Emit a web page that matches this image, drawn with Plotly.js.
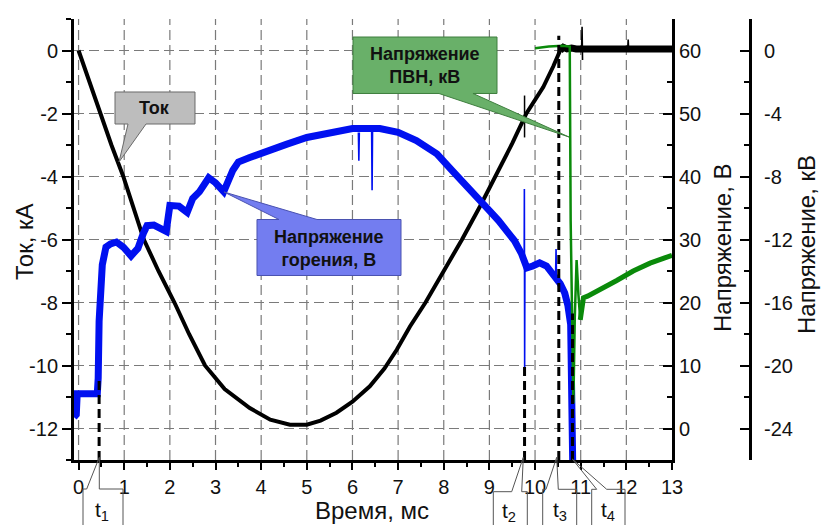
<!DOCTYPE html>
<html><head><meta charset="utf-8">
<script src="https://cdn.plot.ly/plotly-3.0.1.min.js"></script>
<style>html,body{margin:0;padding:0;background:#fff}</style>
</head><body>
<div id="chart" style="width:822px;height:525px"></div>
<script>
// ---- data ----
// Current, kA (left axis)
const currentT = [0, 0.24, 0.47, 0.72, 0.98, 1.2, 1.43, 1.75, 2.1, 2.42, 2.77, 3.2, 3.75, 4.2, 4.63, 5.0, 5.3, 5.65, 6.0, 6.38, 6.7, 6.97, 7.26, 7.6, 8.0, 8.4, 8.79, 9.13, 9.5, 9.81, 10.18, 10.4, 10.55];
const currentI = [0, -1, -2, -3, -4, -5, -6, -7, -8, -9, -10, -10.75, -11.35, -11.72, -11.88, -11.88, -11.75, -11.5, -11.15, -10.66, -10.1, -9.5, -8.76, -8.0, -7.0, -6.0, -4.96, -4.0, -2.95, -2.0, -1.16, -0.5, 0];
const currentTailT = [10.55, 10.62, 10.7, 10.8, 10.9, 11.0, 11.5, 12.0, 12.5, 13.0];
const currentTailI = [0.0, 0.1, 0.05, 0.08, 0.05, 0.05, 0.05, 0.05, 0.03, 0.05];
const currentSpikeT = [11.02, 11.03, 11.04, null, 12.03, 12.04, 12.05];
const currentSpikeI = [0.05, 0.75, -0.3, null, 0.05, 0.35, 0.05];

// Arc (burning) voltage, V (first right axis)
const arcT = [-0.1, -0.05, -0.03, 0.1, 0.25, 0.41, 0.43, 0.45, 0.47, 0.52, 0.6, 0.7, 0.83, 0.98, 1.15, 1.3, 1.42, 1.5, 1.65, 1.8, 1.92, 2.0, 2.2, 2.38, 2.5, 2.65, 2.85, 3.0, 3.18, 3.38, 3.5, 3.75, 4.1, 4.55, 5.0, 5.6, 6.0, 6.6, 7.0, 7.4, 7.85, 8.2, 8.5, 8.75, 9.0, 9.2, 9.38, 9.55, 9.7, 9.76, 9.82, 9.95, 10.1, 10.25, 10.4, 10.55, 10.65, 10.72, 10.78, 10.81, 10.83];
const arcV = [1.8, 2.2, 5.5, 5.4, 5.5, 5.5, 8, 17, 21.5, 26, 28.8, 29.3, 29.6, 28.8, 27.4, 28.6, 31, 32.2, 32.3, 31.8, 31.3, 35.4, 35.3, 34.3, 36.5, 37.6, 39.8, 39, 37.6, 41, 42.3, 43, 43.8, 45.1, 46.2, 47.2, 47.6, 47.6, 47, 45.7, 43.6, 40.8, 38.6, 36.6, 34.6, 33, 31.4, 29.8, 27.8, 26.5, 25.5, 25.8, 26.3, 25.8, 24.6, 23, 21.5, 19.5, 16.5, 8, -8];
const arcSpikeT = [6.13, 6.14, 6.15, null, 6.42, 6.43, 6.44, null, 9.762, 9.766, 9.772, 9.778, null, 10.45, 10.46, 10.47];
const arcSpikeV = [47, 42.5, 47, null, 47.3, 37.8, 47.3, null, 27.5, 38, 9.7, 26, null, 24.5, 28.5, 24];

// High-voltage pulse generator voltage, kV (second right axis)
const hvT = [10.0, 10.3, 10.6, 10.76, 10.78, 10.81, 10.84, 10.87, 10.91, 10.95, 10.99];
const hvKV = [0.15, 0.25, 0.3, 0.25, -10.8, -17.1, -22.4, -17, -13.3, -15.5, -17.1];
const hvTailT = [10.99, 11.06, 11.15, 11.42, 11.79, 12.15, 12.52, 13.0];
const hvTailKV = [-17.1, -15.7, -15.6, -15.2, -14.6, -14.0, -13.5, -13.0];

// event markers t1..t4 (ms) and the current-axis level where each dashed line ends
const markerT = [0.45, 9.77, 10.52, 10.82];
const markerTop = [-10.35, -10.05, 0.47, -8.35];
const markerNames = ['1', '2', '3', '4'];

const xTicks = [0,1,2,3,4,5,6,7,8,9,10,11,12,13];
const currentTicks = [0,-2,-4,-6,-8,-10,-12];
const voltTicks = [0,10,20,30,40,50,60];
const kvTicks = [0,-4,-8,-12,-16,-20,-24];
const label = v => String(v).replace('\u2212', '-');

const X_RANGE = [-0.1, 13];
const I_RANGE = [-13, 1];

// ---- layout helpers (pixel -> paper) ----
const L = 74, T = 19, PW = 686, PH = 441;
const XDOM = 598 / PW;
const X = px => (px - L) / PW;
const Y = py => (T + PH - py) / PH;
const path = pts => 'M' + pts.map(p => X(p[0]).toFixed(5) + ',' + Y(p[1]).toFixed(5)).join('L') + 'Z';

const FONT = 'Liberation Sans, Arial, sans-serif';
const tickFont = {family: FONT, size: 20, color: '#111'};

const traces = [
  {x: arcT, y: arcV, yaxis: 'y2', type: 'scatter', mode: 'lines', name: 'Напряжение горения, В',
   line: {color: '#0010f0', width: 7}},
  {x: arcSpikeT, y: arcSpikeV, yaxis: 'y2', type: 'scatter', mode: 'lines', name: 'Напряжение горения (выбросы)',
   line: {color: '#0010f0', width: 1.6}, connectgaps: false},
  {x: hvT, y: hvKV, yaxis: 'y3', type: 'scatter', mode: 'lines', name: 'Напряжение ПВН, кВ',
   line: {color: '#0a8a0a', width: 2.5}},
  {x: hvTailT, y: hvTailKV, yaxis: 'y3', type: 'scatter', mode: 'lines', name: 'Напряжение ПВН (хвост)',
   line: {color: '#0a8a0a', width: 5}},
  {x: currentT, y: currentI, yaxis: 'y', type: 'scatter', mode: 'lines', name: 'Ток',
   line: {color: '#000', width: 4}},
  {x: currentTailT, y: currentTailI, yaxis: 'y', type: 'scatter', mode: 'lines', name: 'Ток (после t3)',
   line: {color: '#000', width: 7}},
  {x: currentSpikeT, y: currentSpikeI, yaxis: 'y', type: 'scatter', mode: 'lines', name: 'Ток (выбросы)',
   line: {color: '#000', width: 1.6}, connectgaps: false}
];

const shapes = [];
const annotations = [];

// dashed grid (vertical at each ms, horizontal at each current tick), under the traces
const gridLine = {color: '#7a7a7a', width: 1.2, dash: '10px,5px'};
xTicks.filter(v => v < 13).forEach(v => shapes.push({type: 'line', layer: 'below', xref: 'x', yref: 'y',
  x0: v, x1: v, y0: I_RANGE[0], y1: I_RANGE[1], line: gridLine}));
currentTicks.forEach(v => shapes.push({type: 'line', layer: 'below', xref: 'x', yref: 'y',
  x0: X_RANGE[0], x1: X_RANGE[1], y0: v, y1: v, line: gridLine}));

// dashed event lines
markerT.forEach((t, i) => {
  shapes.push({type: 'line', xref: 'x', yref: 'y', x0: t, x1: t, y0: -13, y1: markerTop[i],
    line: {color: '#000', width: 3, dash: '9px,5px'}});
});
// short mark on the current curve at t2
shapes.push({type: 'line', xref: 'x', yref: 'y', x0: markerT[1], x1: markerT[1], y0: -1.43, y1: -2.76,
  line: {color: '#000', width: 1.5}});

// callouts
const callouts = [
  {pts: [[115,92],[195,92],[195,124],[146,124],[119,162],[128,124],[115,124]], fill: '#bdbdbd', border: '#6a6a6a',
   text: 'Ток', cx: 154, cy: 108},
  {pts: [[257,219.5],[279,219.5],[224,192],[317,219.5],[401,219.5],[401,275.5],[257,275.5]], fill: '#737df0', border: '#4a52b0',
   text: 'Напряжение<br>горения, В', cx: 329, cy: 248},
  {pts: [[353,37],[497,37],[497,93.5],[473,93.5],[569,137],[439,93.5],[353,93.5]], fill: '#69b069', border: '#3f7f3f',
   text: 'Напряжение<br>ПВН, кВ', cx: 425, cy: 66}
];
callouts.forEach(c => {
  shapes.push({type: 'path', xref: 'paper', yref: 'paper', path: path(c.pts),
    fillcolor: c.fill, line: {color: c.border, width: 1}, layer: 'above'});
  annotations.push({xref: 'paper', yref: 'paper', x: X(c.cx), y: Y(c.cy), text: c.text, showarrow: false,
    xanchor: 'center', yanchor: 'middle', align: 'center',
    font: {family: FONT, size: 18, color: '#111', weight: 'bold'}});
});

// t-label callouts under the time axis
const tBoxes = [
  {pts: [[83,489],[86.7,489],[99.3,457.3],[99.3,489],[123,489],[123,535],[83,535]], cx: 102, cy: 511},
  {pts: [[493.3,491.7],[511.7,491.7],[523.3,457.3],[521.7,491.7],[527.3,491.7],[527.3,535],[493.3,535]], cx: 509, cy: 512},
  {pts: [[542.7,489.3],[546,489.3],[556.7,457.3],[558.3,489.3],[576.7,489.3],[576.7,535],[542.7,535]], cx: 560, cy: 511},
  {pts: [[591.7,489.3],[596.7,489.3],[572.3,459],[606.7,489.3],[625,489.3],[625,535],[591.7,535]], cx: 608, cy: 511}
];
tBoxes.forEach((b, i) => {
  shapes.push({type: 'path', xref: 'paper', yref: 'paper', path: path(b.pts),
    line: {color: '#555', width: 1}, layer: 'above'});
  annotations.push({xref: 'paper', yref: 'paper', x: X(b.cx), y: Y(b.cy), text: 't<sub>' + markerNames[i] + '</sub>',
    showarrow: false, xanchor: 'center', yanchor: 'middle', font: {family: FONT, size: 21, color: '#111'}});
});

// axis titles
const titleFont = {family: FONT, size: 24, color: '#111'};
annotations.push({xref: 'paper', yref: 'paper', x: X(372), y: Y(510), text: 'Время, мс', showarrow: false,
  xanchor: 'center', yanchor: 'middle', font: titleFont});
annotations.push({xref: 'paper', yref: 'paper', x: X(24), y: Y(242), text: 'Ток, кА', showarrow: false, textangle: -90,
  xanchor: 'center', yanchor: 'middle', font: titleFont});
annotations.push({xref: 'paper', yref: 'paper', x: X(722), y: Y(248), text: 'Напряжение, В', showarrow: false, textangle: -90,
  xanchor: 'center', yanchor: 'middle', font: titleFont});
annotations.push({xref: 'paper', yref: 'paper', x: X(806), y: Y(245), text: 'Напряжение, кВ', showarrow: false, textangle: -90,
  xanchor: 'center', yanchor: 'middle', font: titleFont});

const layout = {
  width: 822, height: 525,
  margin: {l: L, r: 822 - L - PW, t: T, b: 525 - T - PH, pad: 0},
  paper_bgcolor: '#fff', plot_bgcolor: '#fff',
  showlegend: false, hovermode: false,
  font: {family: FONT},
  xaxis: {
    domain: [0, XDOM], range: X_RANGE, tickmode: 'array', tickvals: xTicks, ticktext: xTicks.map(label),
    ticks: 'outside', ticklen: 7, tickwidth: 2, tickcolor: '#000', showgrid: false,
    showline: true, linewidth: 3, linecolor: '#000', zeroline: false, tickfont: tickFont,
    ticklabelstandoff: 0,
    minor: {tickmode: 'linear', tick0: 0.5, dtick: 1, ticks: 'outside', ticklen: 4, tickwidth: 2, tickcolor: '#000', showgrid: false}
  },
  yaxis: {
    range: I_RANGE, tickmode: 'array', tickvals: currentTicks, ticktext: currentTicks.map(label),
    ticks: 'outside', ticklen: 9, tickwidth: 2, tickcolor: '#000', showgrid: false,
    showline: true, linewidth: 3, linecolor: '#000', zeroline: false, tickfont: tickFont,
    minor: {tickmode: 'linear', tick0: 1, dtick: 2, ticks: 'outside', ticklen: 5, tickwidth: 2, tickcolor: '#000', showgrid: false}
  },
  yaxis2: {
    overlaying: 'y', side: 'right', anchor: 'x', range: [-5, 65], tickmode: 'array', tickvals: voltTicks, ticktext: voltTicks.map(label),
    ticks: 'inside', ticklen: 9, tickwidth: 2, tickcolor: '#000',
    showline: true, linewidth: 3, linecolor: '#000', showgrid: false, zeroline: false, tickfont: tickFont,
    minor: {tickmode: 'linear', tick0: 5, dtick: 10, ticks: 'inside', ticklen: 5, tickwidth: 2, tickcolor: '#000', showgrid: false}
  },
  yaxis3: {
    overlaying: 'y', side: 'right', anchor: 'free', position: (750 - L) / PW, range: [-26, 2], tickmode: 'array', tickvals: kvTicks, ticktext: kvTicks.map(label),
    ticks: 'inside', ticklen: 9, tickwidth: 2, tickcolor: '#000', ticklabelstandoff: 8,
    showline: true, linewidth: 3, linecolor: '#000', showgrid: false, zeroline: false, tickfont: tickFont,
    minor: {tickmode: 'linear', tick0: 2, dtick: 4, ticks: 'inside', ticklen: 5, tickwidth: 2, tickcolor: '#000', showgrid: false}
  },
  shapes: shapes,
  annotations: annotations
};

Plotly.newPlot('chart', traces, layout, {displayModeBar: false, staticPlot: true});
</script>
</body></html>
